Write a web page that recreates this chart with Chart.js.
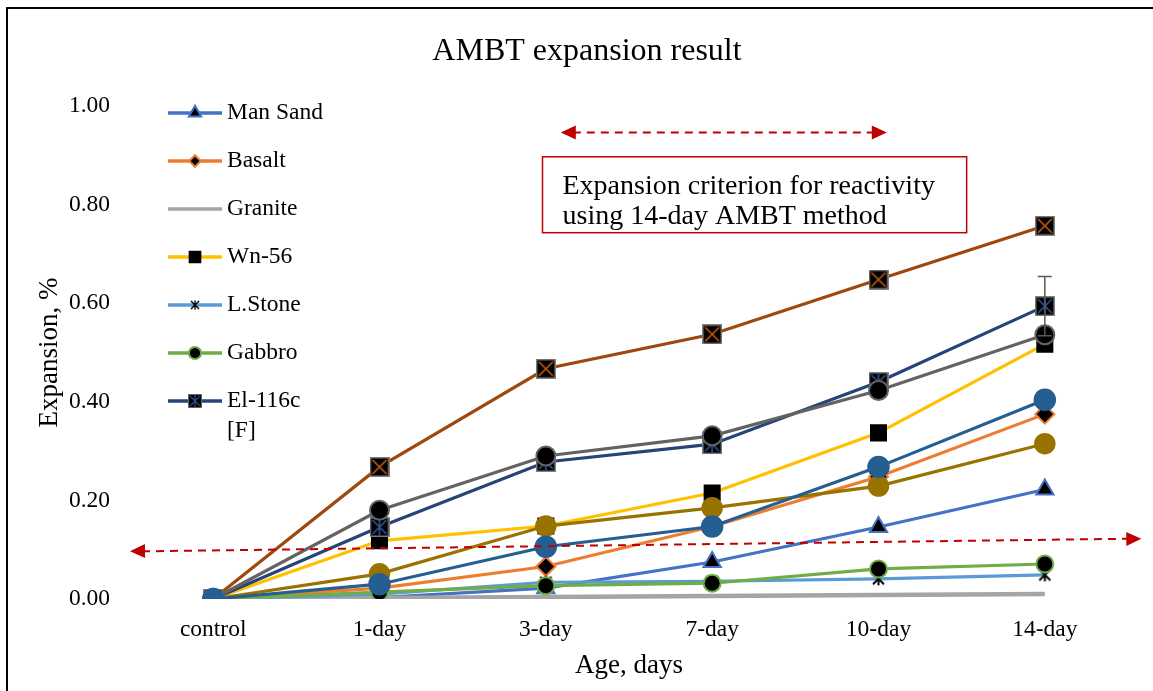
<!DOCTYPE html>
<html>
<head>
<meta charset="utf-8">
<script src="https://cdn.jsdelivr.net/npm/chart.js@4.4.1/dist/chart.umd.min.js"></script>
<style>
  html, body { margin: 0; padding: 0; background: #fff; }
  #wrap { position: relative; width: 1153px; height: 691px; }
</style>
</head>
<body>
<div id="wrap"><canvas id="ambtChart"></canvas></div>
<script>
// categories and measured expansion (%)
const ages = ["control", "1-day", "3-day", "7-day", "10-day", "14-day"];
const manSand = [0, 0.003, 0.022, 0.075, 0.146, 0.222];
const basalt = [0, 0.022, 0.066, 0.147, 0.248, 0.375];
const granite = [0, 0.002, 0.004, 0.006, 0.008, 0.010];
const wn56 = [0, 0.118, 0.148, 0.215, 0.337, 0.517];
const lStone = [0, 0.010, 0.034, 0.036, 0.041, 0.049];
const gabbro = [0, 0.014, 0.027, 0.032, 0.061, 0.071];
const el116c = [0, 0.146, 0.278, 0.314, 0.440, 0.594];
const el116cErr = [0, 0, 0, 0, 0, 0.06];
// series plotted without a legend entry
const seriesH = [0, 0.268, 0.467, 0.537, 0.648, 0.757];
const seriesI = [0, 0.180, 0.290, 0.331, 0.423, 0.536];
const seriesJ = [0, 0.051, 0.148, 0.185, 0.229, 0.315];
const seriesK = [0, 0.030, 0.106, 0.147, 0.268, 0.404];
const yTicks = [0, 0.2, 0.4, 0.6, 0.8, 1.0];

const chartTitle = "AMBT expansion result";
const FONT = "'Liberation Serif', 'Times New Roman', serif";

// little canvases used as marker images
function boxMarker(size, border, lineColor, withVertical) {
  const c = document.createElement("canvas");
  c.width = size; c.height = size;
  const g = c.getContext("2d");
  g.fillStyle = "#000";
  g.fillRect(0, 0, size, size);
  g.strokeStyle = border;
  g.lineWidth = 1.5;
  g.strokeRect(0.75, 0.75, size - 1.5, size - 1.5);
  g.strokeStyle = lineColor;
  g.lineWidth = 1.6;
  g.beginPath();
  g.moveTo(3, 3); g.lineTo(size - 3, size - 3);
  g.moveTo(size - 3, 3); g.lineTo(3, size - 3);
  if (withVertical) { g.moveTo(size / 2, 2); g.lineTo(size / 2, size - 2); }
  g.stroke();
  return c;
}
function starMarker(size) {
  const c = document.createElement("canvas");
  c.width = size; c.height = size;
  const g = c.getContext("2d");
  g.strokeStyle = "#000";
  g.lineWidth = 2;
  g.beginPath();
  g.moveTo(2, 2); g.lineTo(size - 2, size - 2);
  g.moveTo(size - 2, 2); g.lineTo(2, size - 2);
  g.moveTo(size / 2, 1); g.lineTo(size / 2, size - 1);
  g.stroke();
  return c;
}

const brownBox = boxMarker(20, "#7f7f7f", "#C55A11", false);
const elBox = boxMarker(20, "#7f7f7f", "#2F5597", true);
const lsStar = starMarker(15);

function line(label, data, color, style, extra) {
  return Object.assign({
    label: label,
    data: data,
    borderColor: color,
    backgroundColor: color,
    borderWidth: 3.2,
    pointStyle: style,
    pointRadius: 8,
    pointBackgroundColor: "#000",
    pointBorderColor: color,
    pointBorderWidth: 1.5,
    tension: 0,
    inLegend: true
  }, extra || {});
}

const datasets = [
  line("Man Sand", manSand, "#4472C4", "triangle", { pointRadius: 10, pointBorderWidth: 2 }),
  line("Basalt", basalt, "#ED7D31", "rectRot", { pointRadius: 9.5, pointBorderWidth: 2 }),
  line("Granite", granite, "#A5A5A5", "circle", { pointRadius: 0, borderWidth: 4.5 }),
  line("Wn-56", wn56, "#FFC000", "rect", { pointRadius: 11, pointBorderColor: "#000" }),
  line("L.Stone", lStone, "#5B9BD5", lsStar, {}),
  line("Gabbro", gabbro, "#70AD47", "circle", { pointRadius: 8.5, pointBorderWidth: 2 }),
  line("El-116c [F]", el116c, "#264478", elBox, { errors: el116cErr }),
  line("H", seriesH, "#9E480E", brownBox, { inLegend: false }),
  line("I", seriesI, "#636363", "circle", { inLegend: false, pointRadius: 9.5, pointBorderWidth: 2 }),
  line("J", seriesJ, "#997300", "circle", { inLegend: false, pointRadius: 10, pointBackgroundColor: "#997300" }),
  line("K", seriesK, "#255E91", "circle", { inLegend: false, pointRadius: 10.5, pointBackgroundColor: "#255E91" })
];
// later series sit on top, like the original
datasets.forEach((d, i) => { d.order = datasets.length - i; });

// annotation placement (category index, value)
const criterionLine = { x0: -0.5, y0: 0.097, x1: 5.58, y1: 0.122 };
const rangeArrow = { x0: 2.09, x1: 4.05, y: 0.946 };
const noteBox = { x0: 1.98, x1: 4.53, y0: 0.897, y1: 0.743 };
const noteLines = ["Expansion criterion for reactivity", "using 14-day AMBT method"];

function arrowHead(ctx, tx, ty, fx, fy) {
  const a = Math.atan2(ty - fy, tx - fx);
  const len = 15, half = 7;
  ctx.beginPath();
  ctx.moveTo(tx, ty);
  ctx.lineTo(tx - len * Math.cos(a) + half * Math.sin(a), ty - len * Math.sin(a) - half * Math.cos(a));
  ctx.lineTo(tx - len * Math.cos(a) - half * Math.sin(a), ty - len * Math.sin(a) + half * Math.cos(a));
  ctx.closePath();
  ctx.fill();
}

function drawMarker(ctx, ds, x, y, k) {
  const st = ds.pointStyle;
  if (!ds.pointRadius) return;
  if (st instanceof HTMLCanvasElement) {
    const w = st.width * k, h = st.height * k;
    ctx.drawImage(st, x - w / 2, y - h / 2, w, h);
    return;
  }
  const r = ds.pointRadius * k;
  ctx.save();
  ctx.fillStyle = ds.pointBackgroundColor;
  ctx.strokeStyle = ds.pointBorderColor;
  ctx.lineWidth = ds.pointBorderWidth;
  ctx.beginPath();
  if (st === "triangle") {
    for (let i = 0; i < 3; i++) {
      const a = i * 2 * Math.PI / 3;
      const px = x + Math.sin(a) * r, py = y - Math.cos(a) * r;
      if (i === 0) ctx.moveTo(px, py); else ctx.lineTo(px, py);
    }
    ctx.closePath();
  } else if (st === "rectRot") {
    const s = r * 0.85;
    ctx.moveTo(x, y - s); ctx.lineTo(x + s, y); ctx.lineTo(x, y + s); ctx.lineTo(x - s, y);
    ctx.closePath();
  } else if (st === "rect") {
    const s = r * Math.SQRT1_2;
    ctx.rect(x - s, y - s, 2 * s, 2 * s);
  } else {
    ctx.arc(x, y, r, 0, Math.PI * 2);
  }
  ctx.fill();
  ctx.stroke();
  ctx.restore();
}

const decorPlugin = {
  id: "decor",
  beforeDraw(chart) {
    const ctx = chart.ctx;
    ctx.save();
    // outer frame (right and bottom edges fall outside the picture)
    ctx.strokeStyle = "#000";
    ctx.lineWidth = 2;
    ctx.beginPath();
    ctx.moveTo(7, chart.height);
    ctx.lineTo(7, 8);
    ctx.lineTo(chart.width, 8);
    ctx.stroke();
    // title, centred on the full framed figure
    ctx.fillStyle = "#000";
    ctx.font = "32px " + FONT;
    ctx.textAlign = "center";
    ctx.textBaseline = "middle";
    ctx.fillText(chartTitle, (7 + chart.width + 14) / 2, 52);
    ctx.restore();
  },
  afterDatasetsDraw(chart) {
    const ctx = chart.ctx;
    const xs = chart.scales.x, ys = chart.scales.y;
    // error bars
    chart.data.datasets.forEach((ds) => {
      if (!ds.errors) return;
      ctx.save();
      ctx.strokeStyle = "#595959";
      ctx.lineWidth = 1.5;
      ds.errors.forEach((e, i) => {
        if (!e) return;
        const px = xs.getPixelForValue(i);
        const top = ys.getPixelForValue(ds.data[i] + e);
        const bot = ys.getPixelForValue(ds.data[i] - e);
        ctx.beginPath();
        ctx.moveTo(px, top); ctx.lineTo(px, bot);
        ctx.moveTo(px - 7, top); ctx.lineTo(px + 7, top);
        ctx.moveTo(px - 7, bot); ctx.lineTo(px + 7, bot);
        ctx.stroke();
      });
      ctx.restore();
    });
  },
  afterDraw(chart) {
    const ctx = chart.ctx;
    const xs = chart.scales.x, ys = chart.scales.y;
    const red = "#C00000";
    ctx.save();
    ctx.strokeStyle = red;
    ctx.fillStyle = red;
    ctx.lineWidth = 2;
    ctx.setLineDash([8, 6]);

    // criterion line across the chart
    const ax = xs.getPixelForValue(criterionLine.x0), ay = ys.getPixelForValue(criterionLine.y0);
    const bx = xs.getPixelForValue(criterionLine.x1), by = ys.getPixelForValue(criterionLine.y1);
    ctx.beginPath();
    ctx.moveTo(ax + 12, ay - (by - ay) * 12 / (bx - ax));
    ctx.lineTo(bx - 12, by + (by - ay) * 12 / (bx - ax));
    ctx.stroke();

    // span arrow above the note
    const rx0 = xs.getPixelForValue(rangeArrow.x0), rx1 = xs.getPixelForValue(rangeArrow.x1);
    const ry = ys.getPixelForValue(rangeArrow.y);
    ctx.beginPath();
    ctx.moveTo(rx0 + 12, ry);
    ctx.lineTo(rx1 - 12, ry);
    ctx.stroke();

    ctx.setLineDash([]);
    arrowHead(ctx, ax, ay, bx, by);
    arrowHead(ctx, bx, by, ax, ay);
    arrowHead(ctx, rx0, ry, rx1, ry);
    arrowHead(ctx, rx1, ry, rx0, ry);

    // note box
    const l = xs.getPixelForValue(noteBox.x0), r = xs.getPixelForValue(noteBox.x1);
    const t = ys.getPixelForValue(noteBox.y0), b = ys.getPixelForValue(noteBox.y1);
    ctx.fillStyle = "#fff";
    ctx.fillRect(l, t, r - l, b - t);
    ctx.lineWidth = 1.5;
    ctx.strokeRect(l, t, r - l, b - t);
    ctx.fillStyle = "#000";
    ctx.font = "28px " + FONT;
    ctx.textAlign = "left";
    ctx.textBaseline = "middle";
    noteLines.forEach((txt, i) => ctx.fillText(txt, l + 20, t + 30 + i * 30));
    ctx.restore();

    // legend, drawn inside the plot area
    const lx = chart.chartArea.left + 38;
    let ly = chart.chartArea.top + 7;
    ctx.save();
    ctx.font = "23.5px " + FONT;
    ctx.textBaseline = "middle";
    ctx.textAlign = "left";
    chart.data.datasets.forEach((ds) => {
      if (!ds.inLegend) return;
      ctx.strokeStyle = ds.borderColor;
      ctx.lineWidth = 3.5;
      ctx.beginPath();
      ctx.moveTo(lx, ly); ctx.lineTo(lx + 54, ly);
      ctx.stroke();
      drawMarker(ctx, ds, lx + 27, ly, 0.72);
      // wrap long labels
      const words = ds.label.split(" ");
      const rows = [];
      let cur = "";
      words.forEach((w) => {
        const tryTxt = cur ? cur + " " + w : w;
        if (cur && ctx.measureText(tryTxt).width > 100) { rows.push(cur); cur = w; } else cur = tryTxt;
      });
      rows.push(cur);
      ctx.fillStyle = "#000";
      rows.forEach((row, i) => ctx.fillText(row, lx + 59, ly + i * 30));
      ly += 48;
    });
    ctx.restore();
  }
};

new Chart(document.getElementById("ambtChart"), {
  type: "line",
  data: { labels: ages, datasets: datasets },
  options: {
    responsive: true,
    maintainAspectRatio: false,
    animation: false,
    events: [],
    layout: { padding: { left: 8, right: 25, top: 106, bottom: 0 } },
    plugins: {
      legend: { display: false },
      tooltip: { enabled: false },
      title: { display: false }
    },
    scales: {
      x: {
        type: "category",
        offset: true,
        grid: { display: false, drawTicks: false },
        border: { display: false },
        ticks: { color: "#000", font: { family: FONT, size: 23.5 }, padding: 17 },
        title: {
          display: true,
          text: "Age, days",
          color: "#000",
          font: { family: FONT, size: 27 },
          padding: { top: 0, bottom: 9 }
        },
        afterFit(scale) { scale.height = 92; }
      },
      y: {
        min: 0,
        max: 1,
        grid: { display: false, drawTicks: false },
        border: { display: false },
        afterBuildTicks(scale) { scale.ticks = yTicks.map((v) => ({ value: v })); },
        ticks: {
          color: "#000",
          font: { family: FONT, size: 23.5 },
          padding: 20,
          callback: (v) => Number(v).toFixed(2)
        },
        title: {
          display: true,
          text: "Expansion, %",
          color: "#000",
          font: { family: FONT, size: 27 },
          padding: { top: 26, bottom: 0 }
        },
        afterFit(scale) { scale.width = 122; }
      }
    }
  },
  plugins: [decorPlugin]
});
</script>
</body>
</html>
